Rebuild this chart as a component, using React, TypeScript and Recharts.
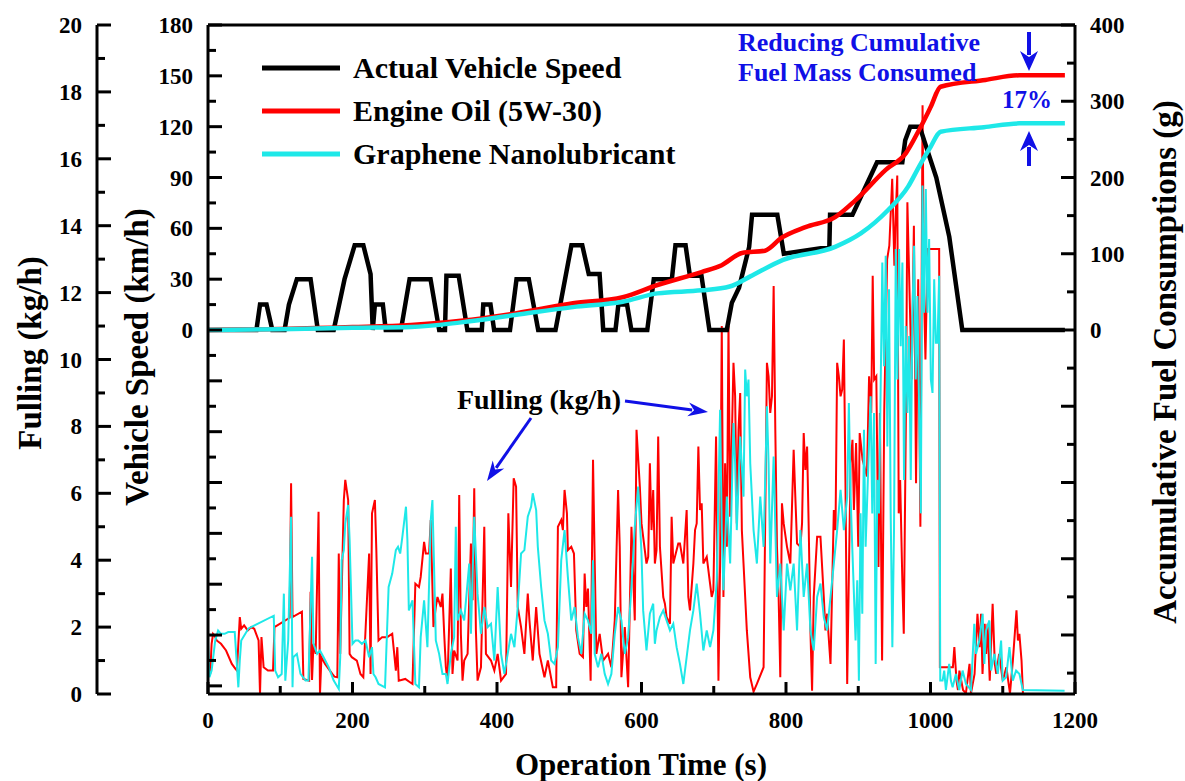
import { ComposedChart, Line, XAxis, YAxis, ReferenceLine } from "recharts";

// vehicle speed (km/h) vs time (s)
const speed: [number, number][] = [
  [0, 0], [67, 0], [72, 15], [81, 15], [89, 0], [106, 0], [112, 15], [123, 30], [142, 30], [152, 0],
  [174, 0], [189, 30], [203, 50], [215, 50], [225, 33], [228, 0], [231, 15], [242, 15], [246, 0],
  [267, 0], [279, 30], [308, 30], [320, 0], [328, 0], [330, 32], [347, 32], [359, 0], [379, 0],
  [381, 15], [391, 15], [396, 0], [418, 0], [427, 30], [444, 30], [457, 0], [481, 0], [503, 50],
  [518, 50], [527, 33], [542, 33], [547, 0], [564, 0], [568, 15], [580, 15], [586, 0], [608, 0],
  [617, 30], [642, 30], [647, 50], [661, 50], [667, 32], [683, 32], [694, 0], [718, 0], [725, 16],
  [735, 25], [749, 49], [753, 68], [788, 68], [797, 45], [860, 49], [861, 68], [892, 68], [926, 99],
  [961, 99], [965, 112], [972, 120], [985, 120], [1008, 90], [1026, 55], [1044, 0], [1186, 0],
];

// accumulative fuel consumption (g)
const oilCum: [number, number][] = [
  [0, 0], [50, 0.5], [100, 1.2], [150, 2.5], [200, 3.8], [281, 6.6], [350, 12], [427, 22], [505, 35],
  [574, 43], [622, 59], [683, 76], [711, 85], [739, 101], [771, 104], [794, 121], [827, 135], [868, 148],
  [896, 170], [938, 210], [966, 232], [984, 262], [1000, 292], [1014, 319], [1076, 328], [1123, 334], [1186, 334],
];
const grapheneCum: [number, number][] = [
  [0, 0], [100, 1], [200, 3], [281, 4], [350, 10], [427, 20], [505, 30], [574, 37], [622, 48], [683, 52],
  [722, 57], [750, 70], [796, 92], [868, 109], [904, 127], [941, 157], [969, 188], [984, 214], [1000, 240],
  [1014, 260], [1074, 266], [1123, 271], [1186, 271],
];

// fuelling rate (kg/h)
const oilFuel: [number, number][] = [
  [0, 0.9], [3, 0.6], [5, 1.5], [7, 1.8], [9, 1.75], [12, 1.6], [18, 1.5], [25, 1.3], [33, 0.9], [38, 0.75],
  [40, 0.7], [44, 2.3], [46, 1.95], [50, 2.05], [55, 1.9], [60, 2.0], [64, 1.95], [70, 1.6], [72, 0], [74, 1.7],
  [77, 0.8], [83, 0.7], [90, 0.7], [92, 2.0], [113, 2.28], [115, 6.3], [117, 2.3], [130, 2.46], [132, 0.45],
  [140, 0.4], [142, 3.06], [144, 0.42], [146, 1.5], [149, 1.2], [153, 5.45], [155, 0], [157, 1.1], [162, 0.9],
  [172, 0.6], [175, 0.52], [179, 0.5], [181, 4.2], [183, 1.2], [188, 5.8], [190, 6.4], [194, 5.8], [196, 1.2],
  [199, 1.1], [206, 1.0], [211, 0.6], [215, 0.5], [223, 4.2], [225, 0.6], [227, 5.4], [231, 5.8], [233, 4.3],
  [236, 1.6], [241, 1.7], [248, 1.7], [255, 1.8], [260, 0.7], [262, 1.4], [264, 0.4], [273, 0.45], [283, 0.3],
  [287, 3.3], [292, 3.2], [294.4, 3.5], [299.1, 4.55], [301.4, 4.2], [306, 4.2], [308.3, 5.2], [312, 2.0],
  [315.3, 2.6], [317.6, 2.9], [322.2, 2.6], [324.5, 3.0], [326.9, 1.8], [329.2, 0.8], [331.5, 0.4], [336.1, 3.75],
  [338.4, 0.6], [340.7, 1.3], [345.4, 1.0], [347.7, 5.95], [350, 1.8], [352.3, 0.4], [354.6, 1.0], [359.3, 1.2],
  [363.9, 4.5], [366.2, 2.8], [368.5, 6.15], [370.8, 1.9], [373.1, 0.4], [377.8, 0.8], [382.4, 5.0], [384.7, 1.2],
  [391.7, 1.0], [396.3, 0.7], [400.9, 1.2], [405.6, 0.4], [412.5, 0.6], [415.7, 5.4], [419.4, 3.2], [423.1, 6.45],
  [426.4, 6.2], [428.7, 2.6], [433.3, 2.0], [437.9, 1.2], [442.6, 3.0], [444.9, 2.2], [449.5, 1.0], [454.2, 2.6],
  [458.8, 1.2], [465.7, 0.5], [470.4, 1.0], [477.3, 0.2], [481.9, 0.2], [484.3, 5.0], [488.9, 5.2], [491.2, 4.9],
  [493.5, 6.1], [496.8, 5.4], [498.1, 4.3], [502.8, 4.4], [506.5, 4.2], [509.7, 1.9], [514.4, 1.2], [519, 1.1],
  [521.3, 3.6], [523.6, 2.6], [525.9, 3.15], [529.6, 0.4], [532.9, 7.0], [535.2, 4.0], [537.5, 1.2], [542.1, 1.8],
  [546.8, 1.0], [553.7, 1.2], [558.3, 0.8], [563, 2.2], [567.6, 6.1], [569.9, 4.4], [572.2, 0.5], [576.9, 2.0],
  [581.5, 0.2], [586.1, 5.0], [590.7, 2.2], [593.1, 7.9], [597.7, 6.2], [600, 5.1], [602.3, 4.7], [606.9, 3.9],
  [609.3, 4.1], [611.6, 6.9], [613.9, 4.9], [616.2, 6.1], [618.5, 3.9], [620.8, 4.3], [623.1, 7.7], [625.5, 4.4],
  [630.1, 2.9], [632.4, 2.7], [634.7, 2.3], [639.4, 2.1], [641.7, 5.3], [644, 3.9], [646.3, 4.1], [650.9, 4.5],
  [653.2, 4.5], [657.9, 3.9], [662.5, 5.5], [664.8, 2.9], [667.1, 2.5], [671.8, 3.9], [674.1, 4.9], [676.4, 5.1],
  [678.7, 7.4], [681, 5.5], [683.3, 5.7], [685.6, 3.9], [690.3, 4.1], [694.9, 3.3], [697.2, 2.9], [699.5, 3.1],
  [703.2, 7.7], [706.5, 0.4], [708.8, 3.9], [711.1, 11.0], [713.4, 2.9], [715.7, 6.9], [718.1, 4.4], [720.4, 11.0],
  [722.7, 5.3], [727.3, 9.9], [729.6, 8.9], [731.9, 5.1], [734.3, 7.9], [736.6, 9.0], [738.9, 4.9], [741.2, 3.9],
  [745.8, 1.9], [750.5, 0.5], [755.1, 0.07], [759.7, 0.3], [769, 0.8], [773.6, 9.9], [775.9, 9.5], [778.2, 8.4],
  [780.6, 8.9], [782.9, 12.2], [785.2, 7.9], [787.5, 4.4], [789.8, 2.9], [792.1, 0.5], [794.4, 5.7], [796.8, 5.1],
  [801.4, 4.4], [806, 3.9], [810.6, 7.3], [812.9, 5.9], [815.3, 4.5], [819.9, 4.4], [822.2, 5.1], [824.5, 7.8],
  [826.8, 6.7], [829.2, 7.4], [831.5, 4.9], [833.8, 1.9], [836.1, 0.1], [838.4, 2.9], [843.1, 4.7], [847.7, 4.7],
  [852.3, 2.9], [854.6, 1.9], [856.9, 2.4], [861.6, 0.9], [866.2, 5.5], [868.5, 4.9], [870.8, 9.9], [873.1, 9.5],
  [875.5, 8.9], [877.8, 9.1], [880.1, 10.6], [882.4, 6.1], [884.7, 0.3], [889.4, 6.9], [892, 7.6], [894, 5.5],
  [897, 7.5], [900, 4.4], [902, 7.8], [906, 7.0], [912, 6.5], [915, 9.5], [918, 8.4], [920, 12.5], [922, 9.4],
  [925, 9.5], [928, 3.8], [930, 8.4], [933, 1.0], [936, 8.5], [940, 13.0], [943, 13.4], [947, 15.4], [950, 12.8],
  [952, 14.4], [954, 15.5], [956, 5.4], [958, 6.4], [961, 3.4], [963, 1.8], [966, 8.4], [968, 14.7], [971, 12.0],
  [974, 9.4], [977, 14.0], [980, 6.3], [983, 12.4], [986, 5.0], [989, 17.6], [991, 12.0], [993, 10.0], [996, 13.3],
  [1012, 13.3], [1013, 0.8], [1031, 0.8], [1033, 1.4], [1036, 0.4], [1038, 0.12], [1040, 0.7], [1045, 0.12],
  [1049, 0.02], [1054, 0.9], [1056, 0.02], [1061, 0.6], [1065, 2.4], [1068, 1.4], [1070, 2.4], [1072, 0.6],
  [1075, 2.1], [1077, 1.2], [1079, 2.1], [1082, 0.4], [1086, 2.7], [1089, 0.9], [1091, 0.6], [1095, 1.2],
  [1100, 0.4], [1105, 0.8], [1110, 0.02], [1114, 1.0], [1119, 2.5], [1121, 1.6], [1123, 1.8], [1126, 1.0], [1128, 0],
];

const grapheneFuel: [number, number][] = [
  [0, 1.5], [2, 0.5], [5, 0.7], [10, 1.6], [14, 1.9], [18, 1.8], [23, 1.8], [28, 1.85], [37, 1.85], [42, 0.2],
  [44, 1.0], [46, 1.6], [56, 1.96], [91, 2.34], [93, 0.7], [97, 0.5], [102, 0.6], [105, 3.0], [107, 0.4],
  [111, 1.6], [115, 5.3], [117, 0.2], [118, 1.1], [123, 1.2], [128, 0.6], [135, 0.4], [139, 0.4], [144, 4.1],
  [146, 1.5], [151, 1.2], [155, 1.3], [160, 1.1], [167, 0.8], [174, 0.4], [181, 0.15], [183, 1.1], [185, 4.0],
  [188, 4.3], [190, 5.1], [194, 5.65], [196, 4.6], [200, 1.5], [204, 1.6], [208, 1.6], [213, 1.5], [218, 1.6],
  [223, 1.1], [227, 1.4], [229, 0.6], [232, 0.5], [236, 0.3], [245, 0.2], [250, 3.2], [255, 3.6], [260, 4.3],
  [263, 4.4], [266, 4.2], [269, 4.7], [274, 5.6], [276, 4.6], [278, 2.5], [283, 2.8], [287, 0.3], [292, 0.2],
  [294.4, 1.7], [299.1, 2.8], [303.7, 1.4], [308.3, 5.2], [310.6, 5.8], [312.9, 3.8], [315.3, 1.6], [319.9, 1.2],
  [324.5, 0.6], [329.2, 0.6], [331.5, 0.3], [336.1, 1.2], [340.7, 1.7], [343, 5.0], [345.4, 2.2], [350, 2.5],
  [354.6, 2.2], [361.6, 3.9], [363.9, 1.8], [368.5, 5.3], [373.1, 3.0], [377.8, 1.8], [382.4, 2.6], [387, 2.0],
  [391.7, 2.1], [396.3, 1.0], [400.9, 3.2], [405.6, 1.2], [410.2, 0.6], [414.8, 1.2], [419.4, 1.8], [424.1, 1.4],
  [428.7, 2.6], [433.3, 4.2], [437.9, 4.3], [442.6, 5.3], [447.2, 5.6], [449.5, 6.0], [454.2, 5.5], [456.5, 4.4],
  [461.1, 3.2], [465.7, 2.2], [470.4, 1.8], [475, 1.0], [479.6, 0.9], [484.3, 1.4], [488.9, 4.0], [493.5, 4.9],
  [498.1, 3.5], [502.8, 2.2], [507.4, 2.6], [512, 1.7], [516.7, 1.2], [521.3, 2.4], [525.9, 2.2], [530.6, 1.8],
  [532.9, 4.0], [535.2, 1.2], [539.8, 0.8], [544.4, 1.2], [549.1, 0.6], [553.7, 0.3], [558.3, 0.6], [563, 1.8],
  [567.6, 2.6], [572.2, 2.2], [576.9, 1.2], [581.5, 1.7], [586.1, 3.2], [590.7, 5.0], [595.4, 6.2], [600, 4.2],
  [602.3, 2.5], [604.6, 1.9], [606.9, 1.3], [611.6, 2.4], [616.2, 2.7], [618.5, 1.5], [620.8, 1.9], [625.5, 2.3],
  [630.1, 2.5], [634.7, 2.2], [639.4, 1.9], [644, 2.1], [648.6, 1.4], [653.2, 0.9], [657.9, 0.3], [662.5, 1.1],
  [667.1, 1.9], [671.8, 2.5], [676.4, 3.3], [681, 2.4], [685.6, 1.3], [690.3, 1.9], [694.9, 1.4], [699.5, 1.9],
  [704.2, 3.4], [708.8, 8.5], [711.1, 4.9], [713.4, 3.1], [718.1, 5.9], [722.7, 3.9], [727.3, 8.1], [729.6, 6.9],
  [731.9, 4.9], [736.6, 7.7], [741.2, 5.9], [743.5, 9.7], [745.8, 8.9], [748.1, 9.4], [750.5, 6.9], [755.1, 4.9],
  [759.7, 3.9], [764.4, 5.9], [769, 4.4], [773.6, 8.6], [775.9, 6.9], [778.2, 3.9], [782.9, 7.1], [787.5, 2.9],
  [792.1, 3.9], [796.8, 1.9], [801.4, 3.9], [806, 3.1], [810.6, 3.9], [815.3, 1.9], [819.9, 4.9], [824.5, 2.9],
  [829.2, 3.9], [833.8, 1.9], [838.4, 1.3], [843.1, 2.9], [847.7, 3.3], [852.3, 2.3], [856.9, 1.9], [861.6, 2.9],
  [866.2, 3.9], [870.8, 4.9], [875.5, 6.1], [880.1, 4.9], [884.7, 5.9], [887, 8.7], [889.4, 5.9], [891.7, 4.4],
  [896.3, 1.6], [898.6, 3.4], [900.9, 0.4], [903.2, 5.4], [905.6, 2.4], [907.9, 7.9], [910.2, 4.4], [914.8, 7.4],
  [917.1, 8.9], [919.4, 5.4], [921.8, 8.4], [924.1, 0.9], [926.4, 6.4], [928.7, 5.4], [933.3, 12.9], [935.6, 9.8],
  [938, 13.1], [940.3, 7.4], [942.6, 12.1], [944.9, 5.4], [947.2, 1.4], [949.5, 4.9], [951.9, 13.3], [954.2, 9.4],
  [956.5, 13.3], [958.8, 10.4], [961.1, 12.9], [963.4, 6.4], [965.7, 11.0], [968.1, 8.4], [970.4, 10.7],
  [972.7, 6.4], [975, 11.4], [977.3, 13.4], [979.6, 9.4], [981.9, 11.9], [984.3, 8.4], [986.6, 5.4], [988.9, 15.2],
  [991.2, 11.4], [993.5, 15.1], [995.8, 11.4], [998.1, 13.6], [1000.5, 9.4], [1002.8, 9.0], [1005.1, 12.4],
  [1007.4, 10.5], [1009.7, 10.5], [1012, 12.5], [1013.5, 0.4], [1016.7, 0.4], [1019, 0.7], [1021.3, 0.12],
  [1025.9, 0.9], [1028.2, 0.4], [1030.6, 0.2], [1035.2, 0.6], [1039.8, 0.12], [1044.4, 0.7], [1049.1, 0.3],
  [1056, 0.12], [1060.6, 2.1], [1063, 1.2], [1067.6, 1.6], [1072.2, 2.4], [1074.5, 0.9], [1076.9, 1.9],
  [1081.5, 2.2], [1083.8, 0.7], [1088.4, 1.2], [1093.1, 0.6], [1097.7, 1.6], [1100, 0.4], [1104.6, 0.5],
  [1109.3, 1.4], [1113.9, 0.4], [1118.5, 0.7], [1123.1, 0.6], [1127.8, 0.12], [1185.6, 0.1],
];

const timeTicks = [0, 100, 200, 300, 400, 500, 600, 700, 800, 900, 1000, 1100, 1200];
const fuelTicks = Array.from({ length: 21 }, (_, i) => i);
const speedTicks = Array.from({ length: 27 }, (_, i) => -210 + i * 15);
const cumTicks = Array.from({ length: 18 }, (_, i) => -450 + i * 50);

const legendItems = [
  { label: "Actual Vehicle Speed", color: "#000000" },
  { label: "Engine Oil (5W-30)", color: "#ff0000" },
  { label: "Graphene Nanolubricant", color: "#1ee8e8" },
];

const toRows = (pts: [number, number][]) => pts.map(([t, v]) => ({ t, v }));

const FONT = "'Liberation Serif', 'Times New Roman', serif";
const CYAN = "#1ee8e8";
const RED = "#ff0000";
const BLUE = "#1010e6";

// axis ids: recharts stacks same-side axes by id order, innermost first
const SPEED_AXIS = "a-speed";
const FUEL_AXIS = "b-fuel";
const CUM_AXIS = "c-cum";

const tickStyle = { fontFamily: FONT, fontWeight: 700, fontSize: 23, fill: "#000" };

function leftTick(isMajor: (v: number) => boolean, hasLabel: (v: number) => boolean) {
  return (props: any) => {
    const { x, y, payload } = props;
    const v = payload.value;
    const big = isMajor(v);
    return (
      <g>
        <line x1={x} x2={x + (big ? 14 : 8)} y1={y} y2={y} stroke="#000" strokeWidth={3} />
        {hasLabel(v) && (
          <text x={x - 15} y={y} dy="0.35em" textAnchor="end" style={tickStyle}>
            {v}
          </text>
        )}
      </g>
    );
  };
}

function rightTick(props: any) {
  const { x, y, payload } = props;
  const v = payload.value;
  const big = v % 100 === 0;
  return (
    <g>
      <line x1={x} x2={x - (big ? 14 : 8)} y1={y} y2={y} stroke="#000" strokeWidth={3} />
      {big && v >= 0 && (
        <text x={x + 15} y={y} dy="0.35em" textAnchor="start" style={tickStyle}>
          {v}
        </text>
      )}
    </g>
  );
}

function bottomTick(props: any) {
  const { x, y, payload } = props;
  const v = payload.value;
  const big = v % 200 === 0;
  return (
    <g>
      <line x1={x} x2={x} y1={y} y2={y - (big ? 12 : 8)} stroke="#000" strokeWidth={3} />
      {big && (
        <text x={x} y={y + 34} textAnchor="middle" style={tickStyle}>
          {v}
        </text>
      )}
    </g>
  );
}

function Arrow({ x1, y1, x2, y2, w = 3, head = 20, half = 7 }: any) {
  const dx = x2 - x1;
  const dy = y2 - y1;
  const len = Math.hypot(dx, dy);
  const ux = dx / len;
  const uy = dy / len;
  const bx = x2 - ux * head;
  const by = y2 - uy * head;
  const px = -uy * half;
  const py = ux * half;
  return (
    <g>
      <line x1={x1} y1={y1} x2={bx + ux * 4} y2={by + uy * 4} stroke={BLUE} strokeWidth={w} />
      <polygon
        points={`${x2},${y2} ${bx + px},${by + py} ${bx + ux * 6},${by + uy * 6} ${bx - px},${by - py}`}
        fill={BLUE}
      />
    </g>
  );
}

export default function App() {
  const titleStyle = { fontFamily: FONT, fontWeight: 700, fontSize: 33, fill: "#000" };
  return (
    <div style={{ position: "relative", width: 1185, height: 781, background: "#fff" }}>
      <style>{`body{margin:0;}`}</style>
      <ComposedChart width={1185} height={781} margin={{ top: 25, right: 0, bottom: 0, left: 0 }}>
        <XAxis
          dataKey="t"
          type="number"
          domain={[0, 1200]}
          ticks={timeTicks}
          interval={0}
          height={87}
          allowDataOverflow
          tickSize={0}
          tickMargin={0}
          tick={bottomTick}
          axisLine={{ stroke: "#000", strokeWidth: 3 }}
        />
        <YAxis
          yAxisId={SPEED_AXIS}
          orientation="left"
          type="number"
          domain={[-214.8, 180]}
          ticks={speedTicks}
          interval={0}
          width={111}
          allowDataOverflow
          tickSize={0}
          tickMargin={0}
          tick={leftTick((v) => v % 30 === 0, (v) => v >= 0 && v % 30 === 0)}
          axisLine={{ stroke: "#000", strokeWidth: 3 }}
        />
        <YAxis
          yAxisId={FUEL_AXIS}
          orientation="left"
          type="number"
          domain={[0, 20]}
          ticks={fuelTicks}
          interval={0}
          width={97}
          allowDataOverflow
          tickSize={0}
          tickMargin={0}
          tick={leftTick((v) => v % 2 === 0, (v) => v % 2 === 0)}
          axisLine={{ stroke: "#000", strokeWidth: 3 }}
        />
        <YAxis
          yAxisId={CUM_AXIS}
          orientation="right"
          type="number"
          domain={[-477.4, 400]}
          ticks={cumTicks}
          interval={0}
          width={110}
          allowDataOverflow
          tickSize={0}
          tickMargin={0}
          tick={rightTick}
          axisLine={{ stroke: "#000", strokeWidth: 3 }}
        />
        <ReferenceLine yAxisId={SPEED_AXIS} y={180} stroke="#000" strokeWidth={3} />
        <Line yAxisId={FUEL_AXIS} data={toRows(oilFuel)} dataKey="v" type="linear" stroke={RED} strokeWidth={2} dot={false} isAnimationActive={false} />
        <Line yAxisId={FUEL_AXIS} data={toRows(grapheneFuel)} dataKey="v" type="linear" stroke={CYAN} strokeWidth={2} dot={false} isAnimationActive={false} />
        <Line yAxisId={SPEED_AXIS} data={toRows(speed)} dataKey="v" type="linear" stroke="#000" strokeWidth={4.5} dot={false} isAnimationActive={false} />
        <Line yAxisId={CUM_AXIS} data={toRows(oilCum)} dataKey="v" type="monotone" stroke={RED} strokeWidth={4.5} dot={false} isAnimationActive={false} />
        <Line yAxisId={CUM_AXIS} data={toRows(grapheneCum)} dataKey="v" type="monotone" stroke={CYAN} strokeWidth={4.5} dot={false} isAnimationActive={false} />
      </ComposedChart>

      <svg width={1185} height={781} style={{ position: "absolute", left: 0, top: 0, pointerEvents: "none" }}>
        {/* axis titles */}
        <text transform="translate(30,353) rotate(-90)" textAnchor="middle" dominantBaseline="central" style={titleStyle}>
          Fulling (kg/h)
        </text>
        <text transform="translate(137,357) rotate(-90)" textAnchor="middle" dominantBaseline="central" style={titleStyle}>
          Vehicle Speed (km/h)
        </text>
        <text transform="translate(1165,362) rotate(-90)" textAnchor="middle" dominantBaseline="central" style={titleStyle}>
          Accumulative Fuel Consumptions (g)
        </text>
        <text x={641} y={775} textAnchor="middle" style={{ ...titleStyle, fontSize: 31 }}>
          Operation Time (s)
        </text>

        {/* legend */}
        {legendItems.map((it, i) => {
          const y = 68 + i * 43;
          return (
            <g key={it.label}>
              <line x1={262} x2={340} y1={y} y2={y} stroke={it.color} strokeWidth={5} />
              <text x={353} y={y + 10} style={{ fontFamily: FONT, fontWeight: 700, fontSize: 30, fill: "#000" }}>
                {it.label}
              </text>
            </g>
          );
        })}

        {/* annotations */}
        <text x={738} y={51} style={{ fontFamily: FONT, fontWeight: 700, fontSize: 26, fill: BLUE }}>
          Reducing Cumulative
        </text>
        <text x={738} y={81} style={{ fontFamily: FONT, fontWeight: 700, fontSize: 26, fill: BLUE }}>
          Fuel Mass Consumed
        </text>
        <text x={1002} y={108} style={{ fontFamily: FONT, fontWeight: 700, fontSize: 25, fill: BLUE }}>
          17%
        </text>
        <Arrow x1={1029} y1={32} x2={1029} y2={71} w={4} head={20} half={9} />
        <Arrow x1={1029} y1={166} x2={1029} y2={131} w={4} head={20} half={9} />

        <text x={539} y={409} textAnchor="middle" style={{ fontFamily: FONT, fontWeight: 700, fontSize: 28, fill: "#000" }}>
          Fulling (kg/h)
        </text>
        <Arrow x1={531} y1={418} x2={487} y2={481} />
        <Arrow x1={625} y1={401} x2={708} y2={412} />
      </svg>
    </div>
  );
}
